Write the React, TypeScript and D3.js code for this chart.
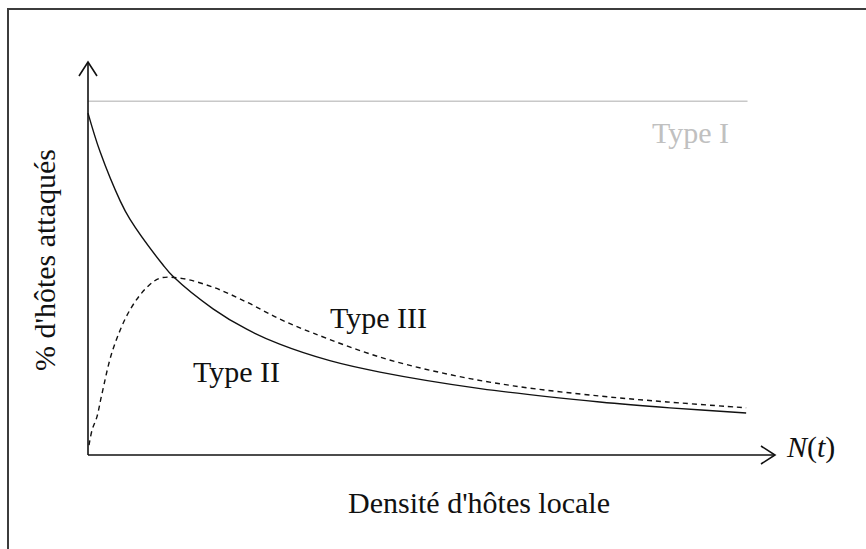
import * as d3 from "d3";

const WIDTH = 866;
const HEIGHT = 549;

// density (0-100) vs % of hosts attacked (0-100)
const typeIX = [0, 96];
const typeIY = [90, 90];

const typeIIX = [0, 1.75, 4.7, 6.1, 10.9, 12.4, 18.2, 23.1, 27.9, 35.2, 42.5, 57.1, 74.5, 84.7, 95.8];
const typeIIY = [87, 77.2, 64.6, 60.0, 48.4, 45.4, 37.2, 32.0, 28.2, 24.0, 21.1, 16.9, 13.5, 12.0, 10.7];

const typeIIIX = [0.15, 0.6, 1.3, 2.0, 3.6, 6.1, 8.6, 10.5, 13.4, 18.2, 23.1, 27.9, 32.8, 42.5, 52.3, 61.9, 74.5, 84.3, 95.8];
const typeIIIY = [2.5, 6.4, 9.7, 15.3, 26.7, 36.9, 42.7, 45.0, 45.0, 42.7, 38.9, 34.6, 31.0, 24.9, 20.6, 17.6, 15.0, 13.5, 12.0];

const LABELS = {
  typeI: "Type I",
  typeII: "Type II",
  typeIII: "Type III",
  xTitle: "Densité d'hôtes locale",
  yTitle: "% d'hôtes attaqués",
};

const FONT = '"Liberation Serif", "DejaVu Serif", "Times New Roman", serif';

type Pt = [number, number];
const zip = (xs: number[], ys: number[]): Pt[] => xs.map((x, i) => [x, ys[i]]);

export default function App() {
  const x = d3.scaleLinear().domain([0, 100]).range([88, 775]);
  const y = d3.scaleLinear().domain([0, 100]).range([455, 62]);

  const line = d3
    .line<Pt>()
    .x((d) => x(d[0]))
    .y((d) => y(d[1]))
    .curve(d3.curveCatmullRom.alpha(0.5));

  const x0 = x(0);
  const y0 = y(0);
  const xTip = x(100);
  const yTip = y(100);

  const txt = { fontFamily: FONT, fontSize: 30 };

  return (
    <svg
      width={WIDTH}
      height={HEIGHT}
      style={{ position: "absolute", left: 0, top: 0, background: "#fff" }}
    >
      {/* outer frame, only left/top visible */}
      <rect x={8} y={9} width={WIDTH + 20} height={HEIGHT + 20} fill="none" stroke="#3c3c3c" strokeWidth={2} />

      {/* Type I */}
      <path d={line(zip(typeIX, typeIY)) ?? ""} fill="none" stroke="#c8c8c8" strokeWidth={1.5} />

      {/* Type II */}
      <path d={line(zip(typeIIX, typeIIY)) ?? ""} fill="none" stroke="#111" strokeWidth={1.4} />

      {/* Type III */}
      <path
        d={line(zip(typeIIIX, typeIIIY)) ?? ""}
        fill="none"
        stroke="#111"
        strokeWidth={1.4}
        strokeDasharray="5,4"
      />

      {/* axes with open arrow heads */}
      <g stroke="#111" strokeWidth={1.6} fill="none">
        <line x1={x0} y1={y0} x2={x0} y2={yTip} />
        <line x1={x0} y1={y0} x2={xTip} y2={y0} />
        <polyline points={`${x0 - 9},${yTip + 14} ${x0},${yTip} ${x0 + 9},${yTip + 14}`} />
        <polyline points={`${xTip - 14},${y0 - 9} ${xTip},${y0} ${xTip - 14},${y0 + 9}`} />
      </g>

      <text x={652} y={143} style={txt} fill="#c0c0c0">{LABELS.typeI}</text>
      <text x={193} y={382} style={txt} fill="#111">{LABELS.typeII}</text>
      <text x={330} y={328} style={txt} fill="#111">{LABELS.typeIII}</text>

      <text x={787} y={457} style={txt} fill="#111">
        <tspan fontStyle="italic">N</tspan>(<tspan fontStyle="italic">t</tspan>)
      </text>

      <text x={348} y={513} style={txt} fill="#111">{LABELS.xTitle}</text>
      <text
        transform="translate(55,260) rotate(-90)"
        textAnchor="middle"
        style={txt}
        fill="#111"
      >
        {LABELS.yTitle}
      </text>
    </svg>
  );
}
